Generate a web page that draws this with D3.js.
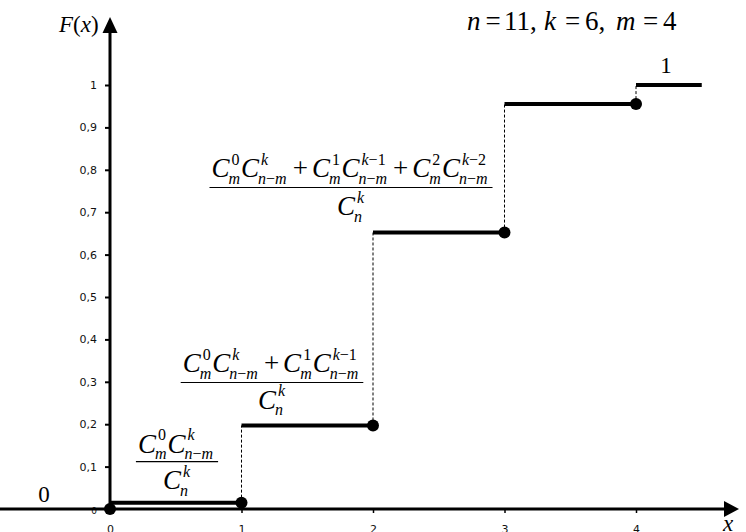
<!DOCTYPE html>
<html><head><meta charset="utf-8">
<script src="https://cdn.jsdelivr.net/npm/d3@7/dist/d3.min.js"></script>
<style>
html,body{margin:0;padding:0;background:#fff;}
svg{display:block;}
</style>
</head><body>
<svg id="chart" width="746" height="532"></svg>
<script>
// ---- data ----
const xValues = [0, 1, 2, 3, 4];
const cdfValues = [0.015, 0.197, 0.652, 0.955, 1];
const xMax = 4.5;
const yTicks = [0, 0.1, 0.2, 0.3, 0.4, 0.5, 0.6, 0.7, 0.8, 0.9, 1];
const yTickLabels = ["0", "0,1", "0,2", "0,3", "0,4", "0,5", "0,6", "0,7", "0,8", "0,9", "1"];
const xTickLabels = ["0", "1", "2", "3", "4"];

const svg = d3.select("#chart");
const x = d3.scaleLinear().domain([0, 4]).range([110, 636]);
const y = d3.scaleLinear().domain([0, 1]).range([509, 85]);
const serif = "Liberation Serif";
const sans = "DejaVu Sans";

// ---- axes ----
const yAxis = svg.append("g").attr("transform", `translate(${x(0)},0)`)
  .call(d3.axisLeft(y).tickValues(yTicks).tickFormat((d, i) => yTickLabels[i]).tickSize(5).tickPadding(8));
yAxis.select(".domain").remove();
yAxis.selectAll(".tick line").attr("stroke", "#000").attr("stroke-width", 2);
yAxis.selectAll(".tick text").attr("font-family", sans).attr("font-size", 11).attr("fill", "#111");
yAxis.selectAll(".tick").filter(d => d === 0).select("text").attr("font-size", 9).attr("dy", "0.55em");

const xAxis = svg.append("g").attr("transform", `translate(0,${y(0)})`)
  .call(d3.axisBottom(x).tickValues(xValues).tickFormat((d, i) => xTickLabels[i]).tickSize(4).tickPadding(12));
xAxis.select(".domain").remove();
xAxis.selectAll(".tick line").attr("stroke", "#000").attr("stroke-width", 1.5);
xAxis.selectAll(".tick text").attr("font-family", sans).attr("font-size", 11).attr("fill", "#111");

// axis lines with arrows
svg.append("line").attr("x1", 0).attr("x2", 726).attr("y1", y(0)).attr("y2", y(0))
  .attr("stroke", "#000").attr("stroke-width", 3);
svg.append("path").attr("d", `M724,${y(0)-8} L739,${y(0)} L724,${y(0)+8} Z`).attr("fill", "#000");
svg.append("line").attr("x1", x(0)).attr("x2", x(0)).attr("y1", y(0)).attr("y2", 30)
  .attr("stroke", "#000").attr("stroke-width", 3);
svg.append("path").attr("d", `M${x(0)-7.5},33 L${x(0)},17 L${x(0)+7.5},33 Z`).attr("fill", "#000");

// ---- steps ----
const segs = xValues.map((v, i) => ({x0: v, x1: i < xValues.length - 1 ? xValues[i + 1] : xMax, f: cdfValues[i]}));
svg.append("g").selectAll("line").data(segs).join("line")
  .attr("x1", d => x(d.x0)).attr("x2", d => x(d.x1))
  .attr("y1", d => y(d.f)).attr("y2", d => y(d.f))
  .attr("stroke", "#000").attr("stroke-width", 4);

const jumps = xValues.slice(1).map((v, i) => ({x: v, f0: cdfValues[i], f1: cdfValues[i + 1]}));
svg.append("g").selectAll("line").data(jumps).join("line")
  .attr("x1", d => x(d.x)).attr("x2", d => x(d.x))
  .attr("y1", d => y(d.f0)).attr("y2", d => y(d.f1))
  .attr("stroke", "#000").attr("stroke-width", 1).attr("stroke-dasharray", "3,2");

const dots = xValues.map((v, i) => ({x: v, f: i === 0 ? 0 : cdfValues[i - 1]}));
svg.append("g").selectAll("circle").data(dots).join("circle")
  .attr("cx", d => x(d.x)).attr("cy", d => y(d.f)).attr("r", 6).attr("fill", "#000");

// ---- texts ----
function mathText(parent, px, py, fs, parts, anchor) {
  const t = parent.append("text").attr("x", px).attr("y", py)
    .attr("font-family", serif).attr("font-size", fs).attr("fill", "#000")
    .attr("text-anchor", anchor || "start");
  parts.forEach(p => {
    const s = t.append("tspan").attr("font-style", p[1] ? "italic" : "normal").text(p[0]);
    if (p[2] !== undefined) s.attr("x", p[2]);
  });
  return t;
}
mathText(svg, 59, 32, 23, [["F", 1], ["(", 0], ["x", 1], [")", 0]]);
mathText(svg, 728, 531, 23, [["x", 1]], "middle");
mathText(svg, 44, 502, 23, [["0", 0]], "middle");
mathText(svg, 666, 73, 23, [["1", 0]], "middle");
mathText(svg, 467, 30, 27, [
  ["n", 1, 467], ["=", 0, 485.5], ["11,", 0, 504],
  ["k", 1, 544], ["=", 0, 565], ["6,", 0, 585],
  ["m", 1, 616], ["=", 0, 643], ["4", 0, 663]]);

function buildRow(g, baseY, items, fs) {
  let cx = 0;
  const sfs = 16;
  items.forEach(it => {
    if (it.op) {
      cx += 5;
      const t = g.append("text").attr("x", cx).attr("y", baseY).attr("font-family", serif)
        .attr("font-size", fs).text(it.op);
      cx += t.node().getComputedTextLength() + 4;
    } else {
      const c = g.append("text").attr("x", cx).attr("y", baseY).attr("font-family", serif)
        .attr("font-size", fs).attr("font-style", "italic").text("C");
      const cw = c.node().getComputedTextLength();
      const sup = g.append("text").attr("x", cx + cw + 2).attr("y", baseY - 12.5)
        .attr("font-family", serif).attr("font-size", sfs);
      it.sup.forEach(p => sup.append("tspan").attr("font-style", p[1] ? "italic" : "normal").text(p[0]));
      const sub = g.append("text").attr("x", cx + cw - 1).attr("y", baseY + 6.5)
        .attr("font-family", serif).attr("font-size", sfs);
      it.sub.forEach(p => sub.append("tspan").attr("font-style", p[1] ? "italic" : "normal").text(p[0]));
      const end = Math.max(cw + 2 + sup.node().getComputedTextLength(), cw - 1 + sub.node().getComputedTextLength());
      cx += end + 1;
    }
  });
  return cx;
}
function fraction(centerX, numY, barY, denY, numItems, denItems, fs) {
  const g = svg.append("g");
  const ng = g.append("g");
  const nw = buildRow(ng, numY, numItems, fs);
  ng.attr("transform", `translate(${centerX - 1 - nw / 2},0)`);
  const dg = g.append("g");
  const dw = buildRow(dg, denY, denItems, fs);
  dg.attr("transform", `translate(${centerX - dw / 2},0)`);
  g.append("line").attr("x1", centerX - 1 - nw / 2 - 2).attr("x2", centerX - 1 + nw / 2 + 4)
    .attr("y1", barY).attr("y2", barY).attr("stroke", "#000").attr("stroke-width", 1.2);
}
const Cm = s => ({sup: s, sub: [["m", 1]]});
const Cnm = s => ({sup: s, sub: [["n", 1], ["\u2212", 0], ["m", 1]]});
const den = [{sup: [["k", 1]], sub: [["n", 1]]}];
fraction(177, 452.5, 461.7, 489,
  [Cm([["0", 0]]), Cnm([["k", 1]])], den, 27);
fraction(272, 372, 382.5, 408.5,
  [Cm([["0", 0]]), Cnm([["k", 1]]), {op: "+"}, Cm([["1", 0]]), Cnm([["k", 1], ["\u22121", 0]])], den, 27);
fraction(351, 177, 187.5, 215,
  [Cm([["0", 0]]), Cnm([["k", 1]]), {op: "+"}, Cm([["1", 0]]), Cnm([["k", 1], ["\u22121", 0]]),
   {op: "+"}, Cm([["2", 0]]), Cnm([["k", 1], ["\u22122", 0]])], den, 27);
</script>
</body></html>
